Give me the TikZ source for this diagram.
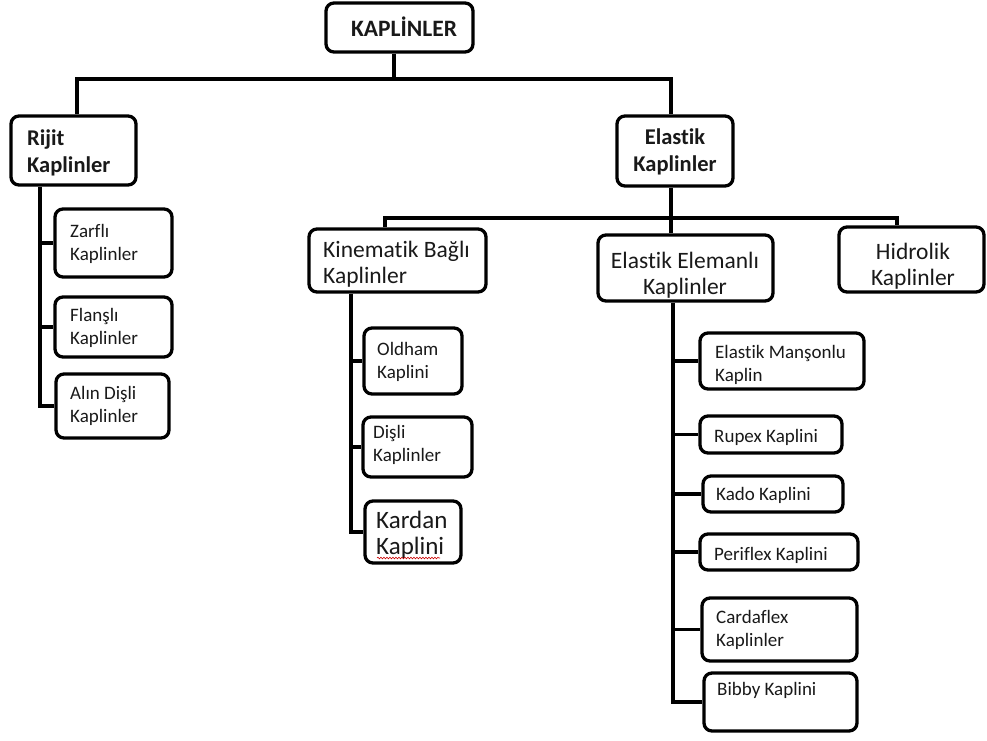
\documentclass[tikz,border=0pt]{standalone}
\usepackage{fontspec}
\setmainfont{Carlito}[Ligatures={NoCommon}]
\usetikzlibrary{decorations.pathmorphing}
\begin{document}
\begin{tikzpicture}[x=1pt,y=-1pt,
  box/.style={draw=black,line width=3.3pt,rounded corners=8pt,inner sep=0pt},
  wire/.style={draw=black,line width=3.3pt},
  big/.style={inner sep=0pt,text=black!90,font=\fontsize{23.5}{26.5}\selectfont},
  bigb/.style={inner sep=0pt,text=black!90,font=\fontsize{22.5}{27}\selectfont\bfseries},
  sm/.style={inner sep=0pt,text=black!90,font=\fontsize{19}{23.5}\selectfont,align=left,anchor=west}]
\useasboundingbox (0,0) rectangle (987,740);
% boxes
\node[box,minimum width=147pt,minimum height=49pt] (top) at (399.5,27.5) {};
\node[box,minimum width=125pt,minimum height=69pt] (rijit) at (73.5,150.5) {};
\node[box,minimum width=116pt,minimum height=70pt] (elastik) at (675,151) {};
\node[box,minimum width=117pt,minimum height=68pt] (zarfli) at (113.5,243) {};
\node[box,minimum width=117pt,minimum height=60pt] (flansli) at (113.5,327) {};
\node[box,minimum width=113pt,minimum height=64pt] (alin) at (112.5,406) {};
\node[box,minimum width=177pt,minimum height=63pt] (kine) at (397.5,260.5) {};
\node[box,minimum width=175pt,minimum height=66pt] (eleman) at (685.5,268) {};
\node[box,minimum width=145pt,minimum height=65pt] (hidro) at (911.5,259.5) {};
\node[box,minimum width=98pt,minimum height=66pt] (oldham) at (413,361) {};
\node[box,minimum width=109pt,minimum height=60pt] (disli) at (417.5,447) {};
\node[box,minimum width=96pt,minimum height=62pt] (kardan) at (413,532) {};
\node[box,minimum width=164pt,minimum height=56pt] (manson) at (782,361) {};
\node[box,minimum width=142pt,minimum height=37pt] (rupex) at (771,434.5) {};
\node[box,minimum width=140pt,minimum height=36pt] (kado) at (773,494) {};
\node[box,minimum width=158pt,minimum height=36pt] (peri) at (779,552) {};
\node[box,minimum width=155pt,minimum height=63pt] (carda) at (779.5,629.5) {};
\node[box,minimum width=153pt,minimum height=58pt] (bibby) at (780.5,702) {};
% labels
\node[bigb,font=\fontsize{23.5}{27}\selectfont\bfseries] (tTop) at (404,27) {KAPLİNLER};
\node[bigb,align=left,anchor=west] (tRijit) at (27,153) {Rijit\\Kaplinler};
\node[bigb,align=center] (tElastik) at (675,152) {Elastik\\Kaplinler};
\node[big,align=left,anchor=west] (tKine) at (323,264) {Kinematik Bağlı\\Kaplinler};
\node[big,align=center] (tEleman) at (685,275) {Elastik Elemanlı\\Kaplinler};
\node[big,align=center] (tHidro) at (913,266) {Hidrolik\\Kaplinler};
\node[sm] (tZarfli) at (70,244) {Zarflı\\Kaplinler};
\node[sm] (tFlansli) at (70,328) {Flanşlı\\Kaplinler};
\node[sm] (tAlin) at (70,406) {Alın Dişli\\Kaplinler};
\node[sm] (tOldham) at (377,362) {Oldham\\Kaplini};
\node[sm] (tDisli) at (373,445) {Dişli\\Kaplinler};
\node[big,align=left,anchor=west,font=\fontsize{25}{26.5}\selectfont] (tKardan) at (376,535) {Kardan\\Kaplini};
\node[sm] (tManson) at (715,365) {Elastik Manşonlu\\Kaplin};
\node[sm] (tRupex) at (714,437) {Rupex Kaplini};
\node[sm] (tKado) at (716,495) {Kado Kaplini};
\node[sm] (tPeri) at (714,555) {Periflex Kaplini};
\node[sm] (tCarda) at (716,630) {Cardaflex\\Kaplinler};
\node[sm] (tBibby) at (717,690) {Bibby Kaplini};
% spell-check squiggle
\coordinate (sqA) at (377,558);
\coordinate (sqB) at (440,558);
\draw[red!80!black,line width=0.6pt,decorate,decoration={snake,amplitude=0.8pt,segment length=3pt}] (sqA) -- (sqB);
% top bus
\coordinate (bL) at (77,79);
\coordinate (bM) at (394,79);
\coordinate (bR) at (671,79);
\draw[wire] (top.south -| bM) -- (bM);
\draw[wire] (rijit.north -| bL) -- (bL) -- (bR) -- (elastik.north -| bR);
% elastik bus
\coordinate (eL) at (385,218);
\coordinate (eM) at (671,218);
\coordinate (eR) at (897,218);
\draw[wire] (elastik.south -| eM) -- (eM);
\draw[wire] (kine.north -| eL) -- (eL) -- (eR) -- (hidro.north -| eR);
\draw[wire] (eM) -- (eleman.north -| eM);
% rijit tree
\coordinate (rv) at (40,0);
\draw[wire] (rijit.south -| rv) |- (alin.west);
\draw[wire] (zarfli.west -| rv) -- (zarfli.west);
\draw[wire] (flansli.west -| rv) -- (flansli.west);
% kinematik tree
\coordinate (kv) at (351,0);
\draw[wire] (kine.south -| kv) |- (kardan.west);
\draw[wire] (oldham.west -| kv) -- (oldham.west);
\draw[wire] (disli.west -| kv) -- (disli.west);
% elastik elemanli tree
\coordinate (ev) at (673,0);
\draw[wire] (eleman.south -| ev) |- (bibby.west);
\draw[wire] (manson.west -| ev) -- (manson.west);
\draw[wire] (rupex.west -| ev) -- (rupex.west);
\draw[wire] (kado.west -| ev) -- (kado.west);
\draw[wire] (peri.west -| ev) -- (peri.west);
\draw[wire] (carda.west -| ev) -- (carda.west);
\end{tikzpicture}
\end{document}
